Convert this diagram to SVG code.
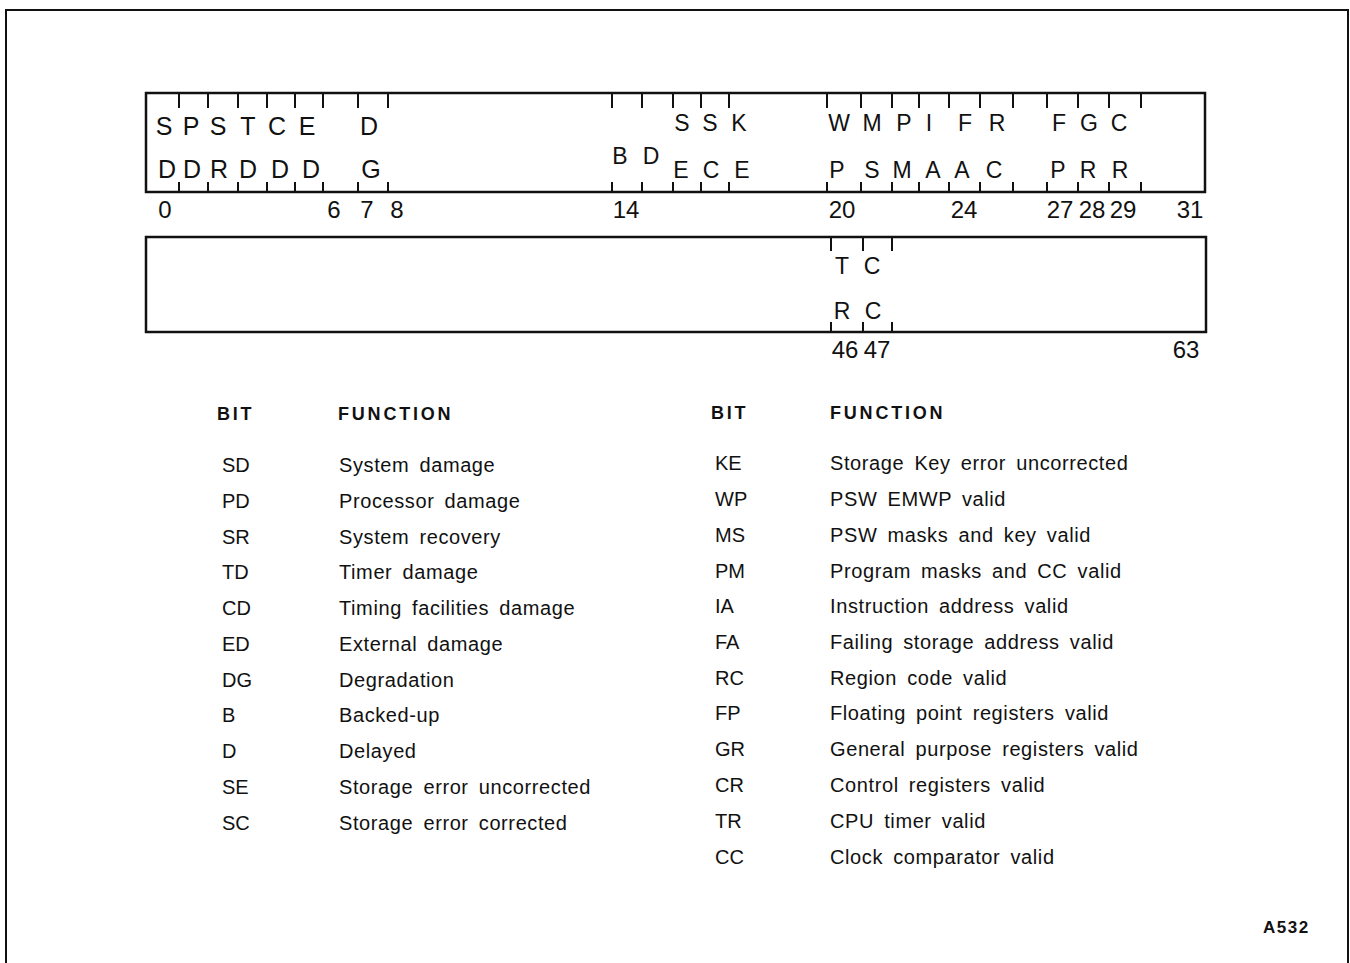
<svg xmlns="http://www.w3.org/2000/svg" width="1350" height="963" viewBox="0 0 1350 963">
<style>
.frame{fill:none;stroke:#111;stroke-width:2}
.reg{fill:#fff;stroke:#111;stroke-width:2.5}
.tick{stroke:#111;stroke-width:2}
.lt{font-family:"Liberation Sans",Arial,sans-serif;font-size:25px;fill:#111;text-anchor:middle}
.ls{font-family:"Liberation Sans",Arial,sans-serif;font-size:23px;fill:#111;text-anchor:middle}
.num{font-family:"Liberation Sans",Arial,sans-serif;font-size:24px;fill:#111;text-anchor:middle}
.hd{font-family:"Liberation Sans",Arial,sans-serif;font-size:18px;font-weight:bold;fill:#111;letter-spacing:2.8px}
.code{font-family:"Liberation Sans",Arial,sans-serif;font-size:20px;fill:#111}
.fn{font-family:"Liberation Sans",Arial,sans-serif;font-size:20px;fill:#111;letter-spacing:0.6px;word-spacing:4px}
.tag{font-family:"Liberation Sans",Arial,sans-serif;font-size:17px;font-weight:bold;fill:#111;letter-spacing:1.5px}
</style>
<rect width="1350" height="963" fill="#fff"/>
<path class="frame" d="M6,975 V10 H1348 V975"/>

<g id="register-0-31">
<rect class="reg" x="146" y="93" width="1059" height="99"/>
<path class="tick" d="M179,93v15M208,93v15M238,93v15M267,93v15M295,93v15M323,93v15M358,93v15M388,93v15M612,93v15M642,93v15M673,93v15M701,93v15M729,93v15M827,93v15M861,93v15M892,93v15M919,93v15M949,93v15M980,93v15M1013,93v15M1047,93v15M1078,93v15M1109,93v15M1141,93v15"/>
<path class="tick" d="M179,182v10M208,182v10M238,182v10M267,182v10M295,182v10M323,182v10M358,182v10M388,182v10M612,182v10M642,182v10M673,182v10M701,182v10M729,182v10M827,182v10M861,182v10M892,182v10M919,182v10M949,182v10M980,182v10M1013,182v10M1047,182v10M1078,182v10M1109,182v10M1141,182v10"/>
<text class="lt" x="164" y="135">S</text>
<text class="lt" x="191" y="135">P</text>
<text class="lt" x="218" y="135">S</text>
<text class="lt" x="248" y="135">T</text>
<text class="lt" x="277" y="135">C</text>
<text class="lt" x="307" y="135">E</text>
<text class="lt" x="369" y="135">D</text>
<text class="lt" x="167" y="178">D</text>
<text class="lt" x="192" y="178">D</text>
<text class="lt" x="219" y="178">R</text>
<text class="lt" x="248" y="178">D</text>
<text class="lt" x="280" y="178">D</text>
<text class="lt" x="311" y="178">D</text>
<text class="lt" x="371" y="178">G</text>
<text class="ls" x="620" y="164">B</text>
<text class="ls" x="651" y="164">D</text>
<text class="ls" x="682" y="131">S</text>
<text class="ls" x="710" y="131">S</text>
<text class="ls" x="739" y="131">K</text>
<text class="ls" x="681" y="178">E</text>
<text class="ls" x="711" y="178">C</text>
<text class="ls" x="742" y="178">E</text>
<text class="ls" x="839" y="131">W</text>
<text class="ls" x="872" y="131">M</text>
<text class="ls" x="904" y="131">P</text>
<text class="ls" x="929" y="131">I</text>
<text class="ls" x="965" y="131">F</text>
<text class="ls" x="997" y="131">R</text>
<text class="ls" x="837" y="178">P</text>
<text class="ls" x="872" y="178">S</text>
<text class="ls" x="902" y="178">M</text>
<text class="ls" x="933" y="178">A</text>
<text class="ls" x="962" y="178">A</text>
<text class="ls" x="994" y="178">C</text>
<text class="ls" x="1059" y="131">F</text>
<text class="ls" x="1089" y="131">G</text>
<text class="ls" x="1119" y="131">C</text>
<text class="ls" x="1058" y="178">P</text>
<text class="ls" x="1088" y="178">R</text>
<text class="ls" x="1120" y="178">R</text>
<text class="num" x="165" y="218">0</text>
<text class="num" x="334" y="218">6</text>
<text class="num" x="367" y="218">7</text>
<text class="num" x="397" y="218">8</text>
<text class="num" x="626" y="218">14</text>
<text class="num" x="842" y="218">20</text>
<text class="num" x="964" y="218">24</text>
<text class="num" x="1060" y="218">27</text>
<text class="num" x="1092" y="218">28</text>
<text class="num" x="1123" y="218">29</text>
<text class="num" x="1190" y="218">31</text>
</g>

<g id="register-32-63">
<rect class="reg" x="146" y="237" width="1060" height="95"/>
<path class="tick" d="M831,237v14M863,237v14M892,237v14M831,322v10M863,322v10M892,322v10"/>
<text class="ls" x="842" y="274">T</text>
<text class="ls" x="872" y="274">C</text>
<text class="ls" x="842" y="319">R</text>
<text class="ls" x="873" y="319">C</text>
<text class="num" x="845" y="358">46</text>
<text class="num" x="877" y="358">47</text>
<text class="num" x="1186" y="358">63</text>
</g>

<g id="table-left">
<text class="hd" x="217" y="420">BIT</text>
<text class="hd" x="338" y="420">FUNCTION</text>
<text class="code" x="222" y="472">SD</text><text class="fn" x="339" y="472">System damage</text>
<text class="code" x="222" y="508">PD</text><text class="fn" x="339" y="508">Processor damage</text>
<text class="code" x="222" y="544">SR</text><text class="fn" x="339" y="544">System recovery</text>
<text class="code" x="222" y="579">TD</text><text class="fn" x="339" y="579">Timer damage</text>
<text class="code" x="222" y="615">CD</text><text class="fn" x="339" y="615">Timing facilities damage</text>
<text class="code" x="222" y="651">ED</text><text class="fn" x="339" y="651">External damage</text>
<text class="code" x="222" y="687">DG</text><text class="fn" x="339" y="687">Degradation</text>
<text class="code" x="222" y="722">B</text><text class="fn" x="339" y="722">Backed-up</text>
<text class="code" x="222" y="758">D</text><text class="fn" x="339" y="758">Delayed</text>
<text class="code" x="222" y="794">SE</text><text class="fn" x="339" y="794">Storage error uncorrected</text>
<text class="code" x="222" y="830">SC</text><text class="fn" x="339" y="830">Storage error corrected</text>
</g>

<g id="table-right">
<text class="hd" x="711" y="419">BIT</text>
<text class="hd" x="830" y="419">FUNCTION</text>
<text class="code" x="715" y="470">KE</text><text class="fn" x="830" y="470">Storage Key error uncorrected</text>
<text class="code" x="715" y="506">WP</text><text class="fn" x="830" y="506">PSW EMWP valid</text>
<text class="code" x="715" y="542">MS</text><text class="fn" x="830" y="542">PSW masks and key valid</text>
<text class="code" x="715" y="578">PM</text><text class="fn" x="830" y="578">Program masks and CC valid</text>
<text class="code" x="715" y="613">IA</text><text class="fn" x="830" y="613">Instruction address valid</text>
<text class="code" x="715" y="649">FA</text><text class="fn" x="830" y="649">Failing storage address valid</text>
<text class="code" x="715" y="685">RC</text><text class="fn" x="830" y="685">Region code valid</text>
<text class="code" x="715" y="720">FP</text><text class="fn" x="830" y="720">Floating point registers valid</text>
<text class="code" x="715" y="756">GR</text><text class="fn" x="830" y="756">General purpose registers valid</text>
<text class="code" x="715" y="792">CR</text><text class="fn" x="830" y="792">Control registers valid</text>
<text class="code" x="715" y="828">TR</text><text class="fn" x="830" y="828">CPU timer valid</text>
<text class="code" x="715" y="864">CC</text><text class="fn" x="830" y="864">Clock comparator valid</text>
</g>

<g id="connectors"></g>

<g id="figure-tag">
<text class="tag" x="1263" y="933">A532</text>
</g>
</svg>
